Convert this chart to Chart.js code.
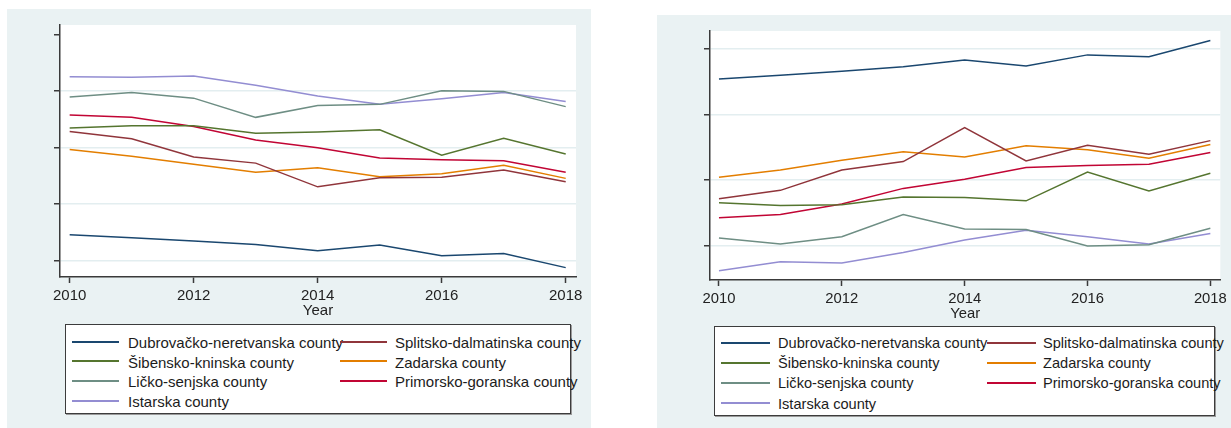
<!DOCTYPE html>
<html>
<head>
<meta charset="utf-8">
<script src="https://cdn.jsdelivr.net/npm/chart.js@4/dist/chart.umd.min.js"></script>
<style>
  html, body { margin: 0; padding: 0; background: #ffffff; }
  body { width: 1231px; height: 428px; position: relative; overflow: hidden;
         font-family: "Liberation Sans", Arial, sans-serif; }
  .panel { position: absolute; background: #eaf2f3; }
  .panel canvas { position: absolute; left: 0; top: 0; }
  .legend { position: absolute; background: #ffffff; border: 1px solid #3c3c3c;
            box-shadow: 1px 1px 0 #9a9a9a; box-sizing: border-box; }
  .legend .sw { position: absolute; height: 2px; }
  .legend .tx { position: absolute; white-space: nowrap; color: #1c1c1c;
                transform: translateY(-50%); line-height: 1; }
</style>
</head>
<body>
<div class="panel" id="panelA" style="left:7px; top:9px; width:584px; height:419px;">
  <canvas id="chartA" width="584" height="311"></canvas>
</div>
<div class="panel" id="panelB" style="left:657px; top:15px; width:574px; height:413px;">
  <canvas id="chartB" width="574" height="308"></canvas>
</div>
<div class="legend" id="legendA" style="left:65px; top:324px; width:506px; height:90px;"></div>
<div class="legend" id="legendB" style="left:714px; top:326px; width:501px; height:90px;"></div>

<script>
// Years and x-axis tick labels
const years = [2010, 2011, 2012, 2013, 2014, 2015, 2016, 2017, 2018];
const xTickLabels = [2010, 2012, 2014, 2016, 2018];

// Counties (series order) and their line colours
const counties = [
  'Dubrovačko-neretvanska county',
  'Splitsko-dalmatinska county',
  'Šibensko-kninska county',
  'Zadarska county',
  'Ličko-senjska county',
  'Primorsko-goranska county',
  'Istarska county'
];
const countyColors = ['#1a476f', '#90353b', '#55752f', '#e37e00', '#6e8e84', '#c10534', '#938dd2'];

// Left panel: unlabelled y ticks and series values
const yTicksA = [0, 1, 2, 3, 4];
const aDubrovacko = [0.45, 0.40, 0.34, 0.28, 0.17, 0.27, 0.08, 0.12, -0.13];
const aSplitsko   = [2.28, 2.15, 1.83, 1.72, 1.30, 1.46, 1.47, 1.60, 1.39];
const aSibensko   = [2.34, 2.38, 2.38, 2.25, 2.27, 2.31, 1.86, 2.16, 1.88];
const aZadarska   = [1.96, 1.84, 1.70, 1.56, 1.64, 1.48, 1.53, 1.68, 1.45];
const aLicko      = [2.89, 2.97, 2.87, 2.53, 2.74, 2.76, 3.00, 2.99, 2.72];
const aPrimorsko  = [2.57, 2.53, 2.37, 2.13, 1.99, 1.81, 1.78, 1.76, 1.56];
const aIstarska   = [3.25, 3.24, 3.26, 3.10, 2.91, 2.76, 2.86, 2.97, 2.81];

// Right panel: unlabelled y ticks and series values
const yTicksB = [0, 1, 2, 3];
const bDubrovacko = [2.54, 2.60, 2.66, 2.73, 2.83, 2.74, 2.91, 2.88, 3.13];
const bSplitsko   = [0.71, 0.84, 1.15, 1.28, 1.80, 1.29, 1.53, 1.39, 1.60];
const bSibensko   = [0.65, 0.61, 0.62, 0.74, 0.73, 0.68, 1.12, 0.83, 1.10];
const bZadarska   = [1.04, 1.15, 1.30, 1.43, 1.35, 1.52, 1.46, 1.33, 1.54];
const bLicko      = [0.11, 0.02, 0.13, 0.47, 0.25, 0.24, -0.01, 0.01, 0.26];
const bPrimorsko  = [0.42, 0.47, 0.63, 0.87, 1.01, 1.19, 1.22, 1.24, 1.42];
const bIstarska   = [-0.39, -0.25, -0.27, -0.11, 0.08, 0.23, 0.13, 0.02, 0.18];

const FONT = '"Liberation Sans", Arial, sans-serif';
const AXIS_COLOR = '#3a3a3a';
const GRID_COLOR = '#e3eef0';

// White plot region inside the tinted graph region
const plotFill = {
  id: 'plotFill',
  beforeDraw(chart) {
    const { ctx, chartArea: a } = chart;
    ctx.save();
    ctx.fillStyle = '#ffffff';
    ctx.fillRect(a.left, a.top, a.right - a.left, a.bottom - a.top);
    ctx.restore();
  }
};

function buildDatasets(seriesList) {
  return seriesList.map((vals, i) => ({
    label: counties[i],
    data: years.map((yr, j) => ({ x: yr, y: vals[j] })),
    borderColor: countyColors[i],
    backgroundColor: countyColors[i],
    borderWidth: 1.5,
    pointRadius: 0,
    tension: 0,
    fill: false
  }));
}

function makeChart(id, seriesList, cfg) {
  return new Chart(document.getElementById(id), {
    type: 'line',
    data: { datasets: buildDatasets(seriesList) },
    plugins: [plotFill],
    options: {
      responsive: false,
      animation: false,
      devicePixelRatio: 1,
      layout: { padding: { top: cfg.padTop, right: cfg.padRight, left: 0, bottom: 0 } },
      plugins: { legend: { display: false }, tooltip: { enabled: false } },
      scales: {
        x: {
          type: 'linear',
          min: cfg.xMin,
          max: cfg.xMax,
          afterBuildTicks: s => { s.ticks = xTickLabels.map(v => ({ value: v })); },
          afterFit: s => { s.height = cfg.xHeight; },
          ticks: {
            autoSkip: false, maxRotation: 0, padding: cfg.tickPad,
            color: '#222222',
            font: { family: FONT, size: cfg.fontSize },
            callback: v => String(v)
          },
          grid: { drawOnChartArea: false, drawTicks: true, tickLength: 6,
                  tickColor: AXIS_COLOR, tickWidth: 1.5 },
          border: { display: true, color: AXIS_COLOR, width: 1.5 },
          title: { display: true, text: 'Year', color: '#222222',
                   padding: { top: 0, bottom: 0 },
                   font: { family: FONT, size: cfg.fontSize, lineHeight: 1.2 } }
        },
        y: {
          type: 'linear',
          min: cfg.yMin,
          max: cfg.yMax,
          afterBuildTicks: s => { s.ticks = cfg.yTicks.map(v => ({ value: v })); },
          afterFit: s => { s.width = cfg.yWidth; },
          ticks: { display: false },
          grid: {
            drawOnChartArea: true, drawTicks: true, tickLength: 6,
            tickColor: AXIS_COLOR, tickWidth: 1.5, lineWidth: 1.5,
            color: c => (cfg.hideGridAt.includes(c.tick && c.tick.value) ? 'rgba(0,0,0,0)' : GRID_COLOR)
          },
          border: { display: true, color: AXIS_COLOR, width: 1.5 }
        }
      }
    }
  });
}

// HTML legend in two columns, built from the chart's datasets
function buildLegend(chart, elId, lay) {
  const box = document.getElementById(elId);
  chart.data.datasets.forEach((ds, i) => {
    const col = i % 2, row = Math.floor(i / 2);
    const cy = lay.firstRow + row * lay.rowGap;
    const tx = document.createElement('div');
    tx.className = 'tx';
    tx.textContent = ds.label;
    tx.style.left = lay.textX[col] + 'px';
    tx.style.top = cy + 'px';
    tx.style.fontSize = lay.fontSize + 'px';
    box.appendChild(tx);
    const sw = document.createElement('div');
    sw.className = 'sw';
    sw.style.left = lay.lineX[col] + 'px';
    sw.style.width = lay.lineW + 'px';
    sw.style.top = Math.round(cy - 1.5) + 'px';
    sw.style.background = ds.borderColor;
    box.appendChild(sw);
  });
}

const chartA = makeChart('chartA',
  [aDubrovacko, aSplitsko, aSibensko, aZadarska, aLicko, aPrimorsko, aIstarska],
  { padTop: 16, padRight: 15, xHeight: 43, yWidth: 53, tickPad: 4,
    xMin: 2009.844, xMax: 2018.166, yMin: -0.296, yMax: 4.165,
    yTicks: yTicksA, hideGridAt: [4], fontSize: 15 });

const chartB = makeChart('chartB',
  [bDubrovacko, bSplitsko, bSibensko, bZadarska, bLicko, bPrimorsko, bIstarska],
  { padTop: 16, padRight: 10, xHeight: 43, yWidth: 53, tickPad: 4,
    xMin: 2009.854, xMax: 2018.163, yMin: -0.53, yMax: 3.275,
    yTicks: yTicksB, hideGridAt: [], fontSize: 14.8 });

buildLegend(chartA, 'legendA', { firstRow: 17, rowGap: 19.7, lineX: [6, 274], lineW: 47,
                                 textX: [62, 329], fontSize: 15 });
buildLegend(chartB, 'legendB', { firstRow: 16, rowGap: 20.2, lineX: [6, 272], lineW: 49,
                                 textX: [63, 328], fontSize: 14.6 });
</script>
</body>
</html>
